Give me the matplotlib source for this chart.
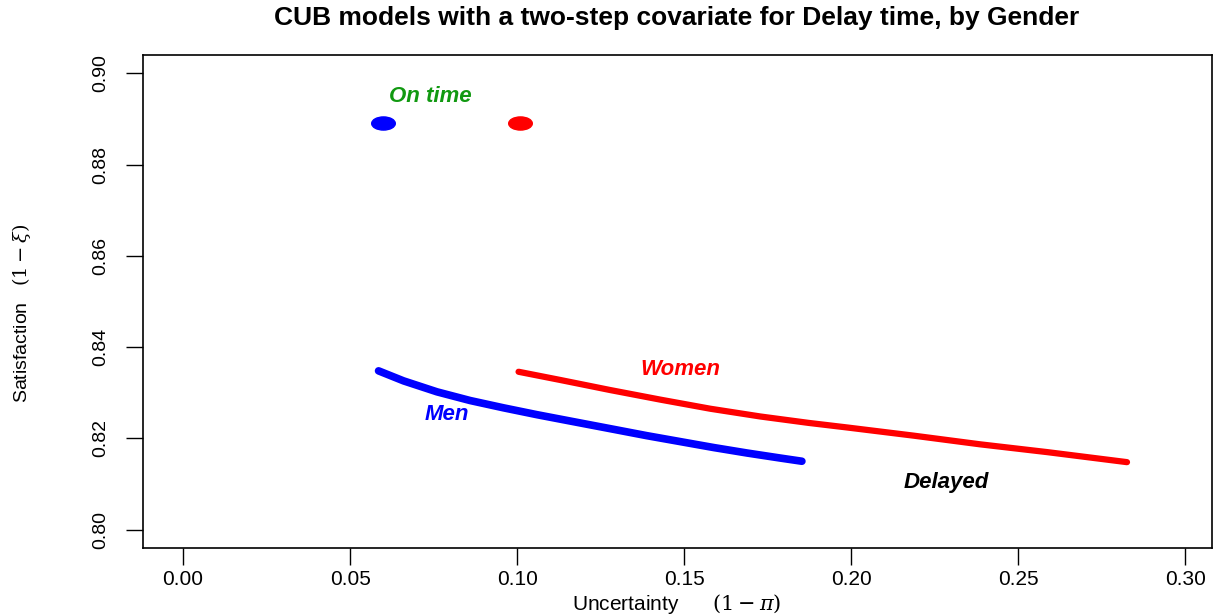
import numpy as np
import matplotlib.pyplot as plt
from matplotlib.path import Path
from matplotlib.transforms import Affine2D

plt.rcParams['font.family'] = ['Liberation Sans', 'DejaVu Sans']
plt.rcParams['mathtext.fontset'] = 'dejavuserif'

# Delayed: curves (Men / Women)
men_x = [0.0585, 0.0660, 0.0760, 0.0859, 0.0959, 0.1059, 0.1159, 0.1288,
         0.1388, 0.1488, 0.1588, 0.1688, 0.1787, 0.1852]
men_y = [0.8348, 0.8326, 0.8302, 0.8283, 0.8267, 0.8252, 0.8238, 0.8220,
         0.8206, 0.8193, 0.8180, 0.8168, 0.8157, 0.8150]
women_x = [0.1004, 0.1129, 0.1278, 0.1428, 0.1578, 0.1728, 0.1872, 0.1987,
           0.2187, 0.2386, 0.2586, 0.2825]
women_y = [0.8346, 0.8328, 0.8306, 0.8285, 0.8265, 0.8248, 0.8234, 0.8224,
           0.8206, 0.8187, 0.8170, 0.8148]

# On time: single points
ontime_x = [0.0599, 0.1009]
ontime_y = [0.8892, 0.8892]
ontime_col = ['#0000ff', '#ff0000']

xticks = [0.00, 0.05, 0.10, 0.15, 0.20, 0.25, 0.30]
yticks = [0.80, 0.82, 0.84, 0.86, 0.88, 0.90]

fig = plt.figure(figsize=(12.15, 6.15), dpi=100)
ax = fig.add_axes([0.1177, 0.109, 0.88, 0.8016])

ax.plot(men_x, men_y, color='#0000ff', lw=5.5, solid_capstyle='round',
        solid_joinstyle='round')
ax.plot(women_x, women_y, color='#ff0000', lw=4.5, solid_capstyle='round',
        solid_joinstyle='round')

# points look stretched horizontally in the picture
ell = Path.unit_circle().transformed(Affine2D().scale(1.8, 1.0))
for x, y, c in zip(ontime_x, ontime_y, ontime_col):
    ax.plot(x, y, marker=ell, markersize=17, color=c, linestyle='none')

lab = dict(fontsize=16, fontweight='bold', fontstyle='italic', ha='center', va='center')
ax.text(0.074, 0.8949, 'On time', color='#119911', **lab)
ax.text(0.1488, 0.8350, 'Women', color='#ff0000', **lab)
ax.text(0.079, 0.8253, 'Men', color='#0000ff', **lab)
ax.text(0.2284, 0.8104, 'Delayed', color='black', **lab)

ax.set_xlim(-0.012, 0.308)
ax.set_ylim(0.796, 0.904)
ax.set_xticks(xticks)
ax.set_xticklabels(['%.2f' % v for v in xticks])
ax.set_yticks(yticks)
ax.set_yticklabels(['%.2f' % v for v in yticks], rotation=90, va='center')
ax.tick_params(axis='x', length=12, width=1, labelsize=15, pad=4)
ax.tick_params(axis='y', length=12, width=1, labelsize=14, pad=12)
for s in ax.spines.values():
    s.set_linewidth(1.2)

fig.text(0.557, 0.97, 'CUB models with a two-step covariate for Delay time, by Gender',
         ha='center', va='center', fontsize=19, fontweight='bold')
fig.text(0.557, 0.018, r'Uncertainty      $(1-\pi)$', ha='center', va='center', fontsize=15)
fig.text(0.018, 0.49, r'Satisfaction   $(1-\xi)$', ha='center', va='center',
         fontsize=14, rotation=90)

fig.savefig('out.png', dpi=100)
